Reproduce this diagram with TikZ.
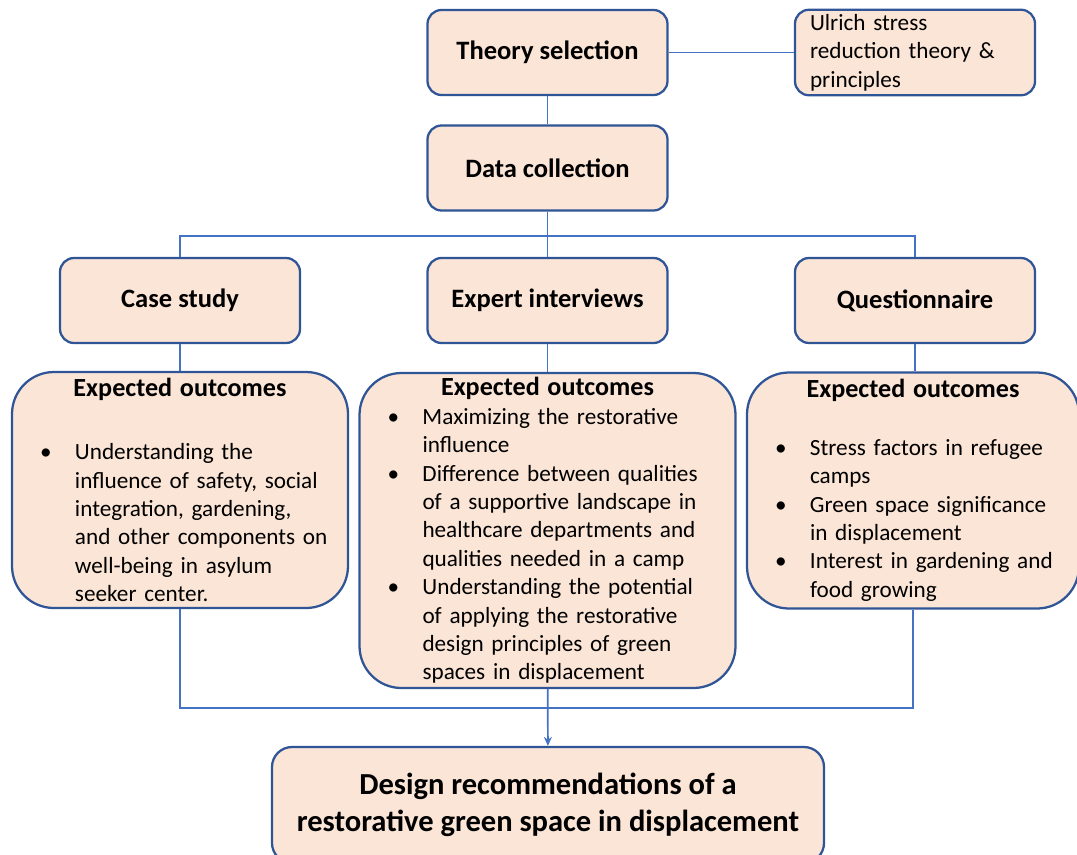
\documentclass[tikz,border=0pt]{standalone}
\usepackage{fontspec}
\setmainfont{Carlito}
\usetikzlibrary{arrows.meta}
\newdimen\px \px=0.75pt
\definecolor{boxfill}{HTML}{FBE5D6}
\definecolor{boxline}{HTML}{2F5597}
\definecolor{linkline}{HTML}{4472C4}
\newcommand{\bitem}{\par\noindent\hangindent=63\px\hangafter=1\makebox[63\px][l]{\hspace{28\px}\textbullet}}
\newcommand{\outhead}{\centerline{\fontsize{19.6}{21.3}\selectfont\bfseries Expected outcomes}}
\begin{document}
\begin{tikzpicture}[x=0.75pt,y=-0.75pt,
  main/.style={draw=boxline,fill=boxfill,line width=1.7pt,rounded corners=14\px,minimum width=240\px,minimum height=85\px,font={\fontsize{19.9}{21.3}\selectfont\bfseries}},
  note/.style={main,font={\fontsize{17.4}{21.3}\selectfont},text width=210\px,inner xsep=15\px,align=left},
  outbox/.style={draw=boxline,fill=boxfill,line width=1.7pt,rounded corners=42\px,inner xsep=0pt,font={\fontsize{17.4}{21.3}\selectfont}},
  link/.style={draw=linkline,line width=1.3pt}]
  \useasboundingbox (0,0) rectangle (1077,854);
  \node[main](theory) at (547.5,52.5) {Theory selection};
  \node[note](ulrich) at (915,52.5) {Ulrich stress\\reduction theory \&\\principles};
  \node[main](data) at (547.5,168) {Data collection};
  \node[main](case) at (180,300.5) {Case study};
  \node[main](expert) at (547.5,300.5) {Expert interviews};
  \node[main](quest) at (915,300.5) {Questionnaire};
  \node[outbox,minimum width=336\px,minimum height=236\px,text width=336\px](out1) at (180,490) {\outhead\vspace{35\px}%
    \bitem Understanding the\newline influence of safety, social\newline integration, gardening,\newline and other components on\newline well-being in asylum\newline seeker center.\par};
  \node[outbox,minimum width=376\px,minimum height=315\px,text width=376\px](out2) at (547.5,530.5) {\outhead%
    \bitem Maximizing the restorative\newline influence
    \bitem Difference between qualities\newline of a supportive landscape in\newline healthcare departments and\newline qualities needed in a camp
    \bitem Understanding the potential\newline of applying the restorative\newline design principles of green\newline spaces in displacement\par};
  \node[outbox,minimum width=332\px,minimum height=236\px,text width=332\px](out3) at (913,490.5) {\outhead\vspace{29\px}%
    \bitem Stress factors in refugee\newline camps
    \bitem Green space significance\newline in displacement
    \bitem Interest in gardening and\newline food growing\par};
  \node[main,minimum width=552\px,minimum height=116\px,rounded corners=20\px,align=center,font={\fontsize{22.9}{27.8}\selectfont\bfseries}](final) at (548,805) {Design recommendations of a\\restorative green space in displacement};
  \coordinate (top) at (547.5,236);
  \coordinate (bot) at (547.5,708);
  \draw[link](theory) -- (ulrich);
  \draw[link](theory) -- (data);
  \draw[link](data) -- (expert);
  \draw[link](case) |- (top) -| (quest);
  \draw[link](case) -- (out1);
  \draw[link](expert) -- (out2);
  \draw[link](quest) -- (quest |- out3.north);
  \draw[link](out1) |- (bot) -| (out3);
  \draw[link,-{Stealth[length=6.75pt,width=6pt]}](out2) -- (final);
\end{tikzpicture}
\end{document}
